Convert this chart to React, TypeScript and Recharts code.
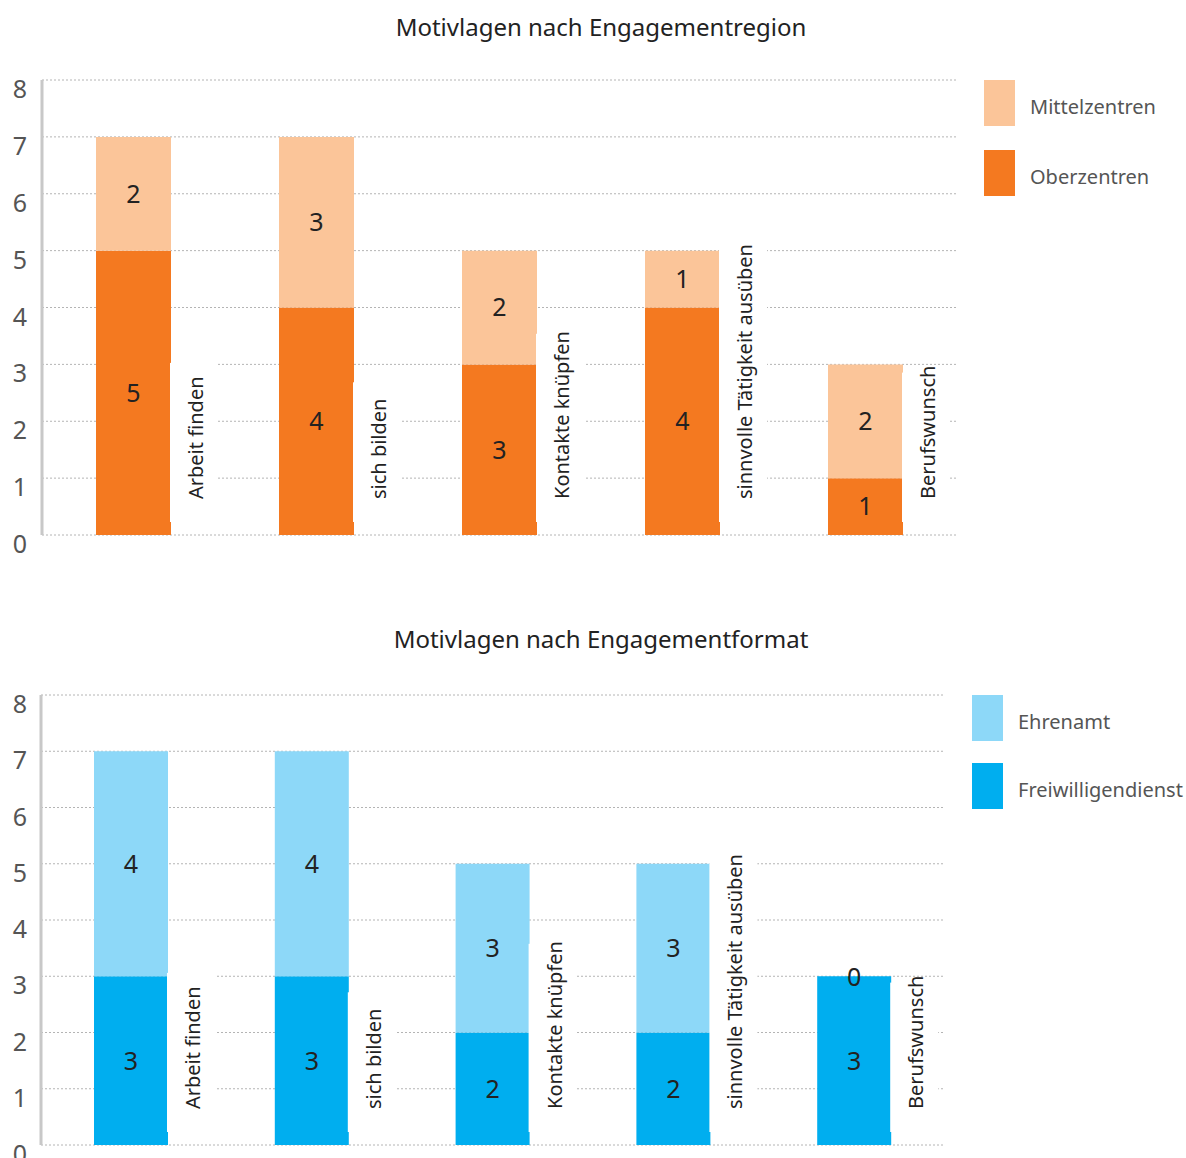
import { BarChart, Bar, XAxis, YAxis, CartesianGrid, LabelList } from 'recharts'

// Motive categories and counts per group
const motives = ['Arbeit finden', 'sich bilden', 'Kontakte knüpfen', 'sinnvolle Tätigkeit ausüben', 'Berufswunsch']
const oberzentren = [5, 4, 3, 4, 1]
const mittelzentren = [2, 3, 2, 1, 2]
const freiwilligendienst = [3, 3, 2, 2, 3]
const ehrenamt = [4, 4, 3, 3, 0]
const yTicks = [0, 1, 2, 3, 4, 5, 6, 7, 8]

const FONT = '"Noto Sans", sans-serif'

const regionData = motives.map((motive, i) => ({
  motive,
  base: oberzentren[i],
  top: mittelzentren[i],
}))

const formatData = motives.map((motive, i) => ({
  motive,
  base: freiwilligendienst[i],
  top: ehrenamt[i],
}))

function YTick(props: any) {
  const { y, payload } = props
  return (
    <text x={20} y={y + 8} textAnchor="middle" dominantBaseline="central" fontSize={25} fill="#555" fontFamily={FONT}>
      {payload.value}
    </text>
  )
}

// rotated category name next to the bar, on a white box that masks the grid
function MotiveLabel(props: any) {
  const { x, y, width, height, value } = props
  const label = String(value)
  const right = Number(x) + Number(width)
  const base = Number(y) + Number(height)
  const len = label.length * 9.7
  const textBottom = base - 36
  return (
    <g>
      <rect x={right - 1} y={textBottom - len - 10} width={48} height={len + 10 + 23} fill="#fff" />
      <text
        transform={`translate(${right + 32}, ${textBottom}) rotate(-90)`}
        fontSize={20}
        fill="#222"
        fontFamily={FONT}
      >
        {label}
      </text>
    </g>
  )
}

// an empty upper segment has no height, so its "0" sits on top of the lower one
function ZeroTopLabel(props: any) {
  const { x, y, width, value } = props
  if (Number(value) !== 0) return null
  return (
    <text
      x={Number(x) + Number(width) / 2}
      y={Number(y)}
      textAnchor="middle"
      dominantBaseline="central"
      fontSize={25}
      fill="#222"
      fontFamily={FONT}
    >
      {value}
    </text>
  )
}

interface PanelProps {
  title: string
  top: number
  height: number
  data: { motive: string; base: number; top: number }[]
  names: [string, string]
  colors: [string, string]
  margin: { top: number; right: number; bottom: number; left: number }
  axisWidth: number
  barSize: number
  legendX: number
  legendY: number
  legendGap: number
}

function Panel(p: PanelProps) {
  return (
    <div style={{ position: 'absolute', left: 0, top: p.top, width: 1186, height: p.height }}>
      <div
        style={{
          position: 'absolute',
          left: 0,
          width: 1202,
          top: 14,
          textAlign: 'center',
          fontFamily: FONT,
          fontSize: 24,
          lineHeight: '26px',
          color: '#222',
        }}
      >
        {p.title}
      </div>
      <BarChart width={1186} height={p.height} data={p.data} margin={p.margin} barSize={p.barSize}>
        <CartesianGrid vertical={false} stroke="#b4b4b4" strokeDasharray="2 2" />
        <XAxis dataKey="motive" hide />
        <YAxis
          width={p.axisWidth}
          domain={[0, 8]}
          ticks={yTicks}
          interval={0}
          tickLine={false}
          axisLine={{ stroke: '#c8c8c8', strokeWidth: 3 }}
          tick={<YTick />}
        />
        <Bar dataKey="base" name={p.names[1]} stackId="s" fill={p.colors[1]} isAnimationActive={false}>
          <LabelList dataKey="base" position="center" fill="#222" fontSize={25} fontFamily={FONT} />
          <LabelList dataKey="motive" content={<MotiveLabel />} />
          <LabelList dataKey="top" content={<ZeroTopLabel />} />
        </Bar>
        <Bar dataKey="top" name={p.names[0]} stackId="s" fill={p.colors[0]} isAnimationActive={false}>
          <LabelList dataKey="top" position="center" fill="#222" fontSize={25} fontFamily={FONT} />
        </Bar>
      </BarChart>
      {p.names.map((name, i) => (
        <div
          key={name}
          style={{ position: 'absolute', left: p.legendX, top: p.legendY + i * p.legendGap - p.top, display: 'flex', alignItems: 'center' }}
        >
          <div style={{ width: 31, height: 46, background: p.colors[i] }} />
          <span style={{ marginLeft: 15, paddingTop: 6, fontFamily: FONT, fontSize: 20, color: '#555' }}>{name}</span>
        </div>
      ))}
    </div>
  )
}

export default function App() {
  return (
    <div style={{ position: 'absolute', left: 0, top: 0, width: 1186, height: 1158, overflow: 'hidden', background: '#fff' }}>
      <Panel
        title="Motivlagen nach Engagementregion"
        top={0}
        height={580}
        data={regionData}
        names={['Mittelzentren', 'Oberzentren']}
        colors={['#fbc599', '#f47920']}
        margin={{ top: 80, right: 229, bottom: 45, left: 0 }}
        axisWidth={42}
        barSize={75}
        legendX={984}
        legendY={80}
        legendGap={70}
      />
      <Panel
        title="Motivlagen nach Engagementformat"
        top={612}
        height={570}
        data={formatData}
        names={['Ehrenamt', 'Freiwilligendienst']}
        colors={['#8dd8f8', '#00aeef']}
        margin={{ top: 83, right: 241, bottom: 37, left: 0 }}
        axisWidth={41}
        barSize={74}
        legendX={972}
        legendY={695}
        legendGap={68}
      />
    </div>
  )
}
